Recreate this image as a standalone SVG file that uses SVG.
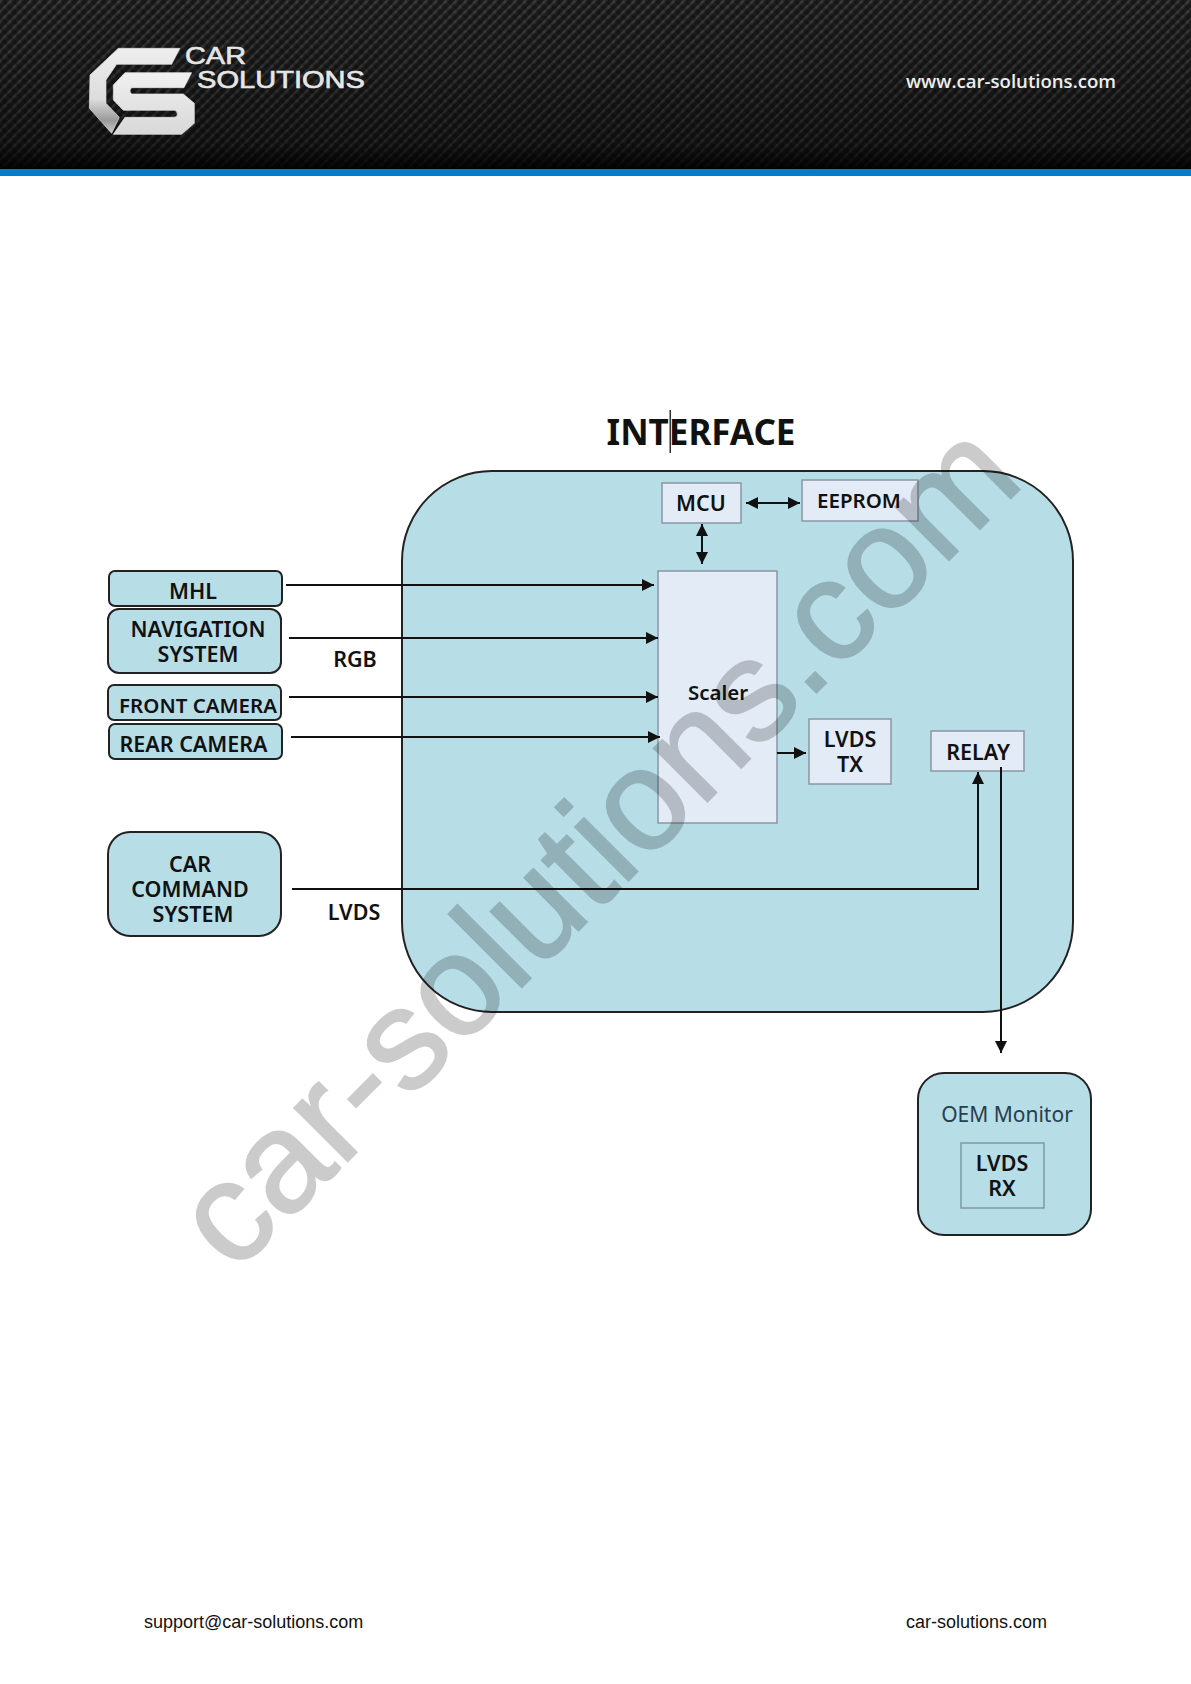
<svg xmlns="http://www.w3.org/2000/svg" width="1191" height="1684" viewBox="0 0 1191 1684">
<style>
text{font-family:"Noto Sans","Open Sans","Liberation Sans",sans-serif;font-weight:600;fill:#111;text-anchor:middle}
.l{font-size:21.5px}
.lf{font-size:20.5px}
.b{fill:#b7dde7;stroke:#222;stroke-width:2}
.i{fill:#e2ebf6;stroke:#8a97a3;stroke-width:1.5}
.c{fill:none;stroke:#111;stroke-width:2}
.foot{font-family:"Liberation Sans",Arial,sans-serif;font-weight:400;font-size:18px;fill:#111;text-anchor:start}
.logo{font-family:"Liberation Sans",sans-serif;font-size:23px;font-weight:400;fill:#e6e6e6;stroke:#e6e6e6;stroke-width:.6;text-anchor:start}
</style>
<defs>
<linearGradient id="hdr" x1="0" y1="0" x2="0" y2="1"><stop offset="0" stop-color="#000" stop-opacity="0"/><stop offset=".4" stop-color="#000" stop-opacity=".15"/><stop offset=".85" stop-color="#000" stop-opacity=".4"/><stop offset="1" stop-color="#000" stop-opacity=".9"/></linearGradient>
<linearGradient id="lg" x1="0" y1="0" x2="0" y2="1"><stop offset="0" stop-color="#f0f0f0"/><stop offset="1" stop-color="#d8d8d8"/></linearGradient>
<linearGradient id="lc" x1="0" y1="0" x2="0" y2="1"><stop offset="0" stop-color="#eee"/><stop offset=".6" stop-color="#dcdcdc"/><stop offset=".85" stop-color="#999"/><stop offset="1" stop-color="#ccc"/></linearGradient>
<pattern id="carbon" width="7" height="7" patternUnits="userSpaceOnUse" patternTransform="rotate(-45)"><rect width="7" height="7" fill="#1c1c1c"/><rect width="7" height="2.5" fill="#3c3c3c"/><rect x="0" width="3.5" height="7" fill="#000" opacity=".22"/></pattern>
<marker id="ah" markerWidth="13" markerHeight="12" refX="12" refY="6" orient="auto-start-reverse" markerUnits="userSpaceOnUse"><path d="M0 0L12 6L0 12z" fill="#111"/></marker>
</defs>
<g id="header">
<rect width="1191" height="169" fill="url(#carbon)"/>
<rect width="1191" height="169" fill="url(#hdr)"/>
<rect y="169" width="1191" height="7" fill="#0a7cc4"/>
<g id="logo" transform="scale(.3333)">
<path d="M540 145H355L270 225L268 325L335 400L358 352L318 310V240L350 193H515Z" fill="url(#lc)" stroke="#e0e0e0" stroke-width="2" stroke-linejoin="round"/>
<path d="M575 218H375L340 255V300L370 331H522Q532 331 532 343Q532 352 522 352H375L340 403H545L583 370V310L550 282H395Q385 272 395 263H552Z" fill="url(#lg)" stroke="#e6e6e6" stroke-width="2" stroke-linejoin="round"/>
</g>
<text class="logo" x="185" y="64" textLength="61" lengthAdjust="spacingAndGlyphs">CAR</text>
<text class="logo" x="197" y="88" textLength="168" lengthAdjust="spacingAndGlyphs">SOLUTIONS</text>
<text x="1011" y="88" style="font-family:'Open Sans',sans-serif;font-size:18.6px;font-weight:600;fill:#eee">www.car-solutions.com</text>
</g>
<text x="701" y="445" style="font-size:35px;font-weight:700">INTERFACE</text>
<rect x="669.5" y="410" width="1.5" height="43" fill="#333"/>
<g id="interface"><rect class="b" x="402" y="471" width="671" height="541" rx="90"/></g>
<g id="mcu"><rect class="i" x="662" y="483" width="79" height="40"/><text class="l" x="701" y="511">MCU</text></g>
<g id="eeprom"><rect class="i" x="802" y="480" width="116" height="41"/><text class="lf" x="859" y="508">EEPROM</text></g>
<g id="scaler"><rect class="i" x="658" y="571" width="119" height="252"/><text class="lf" x="718" y="700">Scaler</text></g>
<g id="lvds-tx"><rect class="i" x="809" y="719" width="82" height="65"/><text class="l" y="747"><tspan x="850">LVDS</tspan><tspan x="850" dy="25">TX</tspan></text></g>
<g id="relay"><rect class="i" x="931" y="731" width="93" height="40"/><text class="l" x="978" y="760">RELAY</text></g>
<g id="mhl"><rect class="b" x="109" y="571" width="173" height="35" rx="6"/><text class="l" x="193" y="599">MHL</text></g>
<g id="nav"><rect class="b" x="108" y="609" width="173" height="64" rx="11"/><text class="l" y="637"><tspan x="198">NAVIGATION</tspan><tspan x="198" dy="25">SYSTEM</tspan></text></g>
<g id="front"><rect class="b" x="108" y="685" width="173" height="35" rx="6"/><text class="lf" x="198" y="713">FRONT CAMERA</text></g>
<g id="rear"><rect class="b" x="109" y="724" width="173" height="35" rx="6"/><text class="l" x="193.500" y="752">REAR CAMERA</text></g>
<g id="ccs"><rect class="b" x="108" y="832" width="173" height="104" rx="22"/><text class="l" y="872"><tspan x="190">CAR</tspan><tspan x="190" dy="25">COMMAND</tspan><tspan x="193" dy="25">SYSTEM</tspan></text></g>
<g id="monitor"><rect class="b" x="918" y="1073" width="173" height="162" rx="26"/><text x="1007" y="1122" style="font-size:21px;font-weight:400;fill:#27404d">OEM Monitor</text><rect x="961" y="1143" width="83" height="65" fill="#b7dde7" stroke="#7f9aa5" stroke-width="1.5"/><text class="l" y="1171"><tspan x="1002">LVDS</tspan><tspan x="1002" dy="25">RX</tspan></text></g>
<text class="l" x="355" y="667">RGB</text>
<text class="l" x="354" y="920">LVDS</text>
<g id="connectors">
<path class="c" d="M286 585H654" marker-end="url(#ah)"/>
<path class="c" d="M289 638H658" marker-end="url(#ah)"/>
<path class="c" d="M289 697H658" marker-end="url(#ah)"/>
<path class="c" d="M291 737H660" marker-end="url(#ah)"/>
<path class="c" d="M292 889H978V772" marker-end="url(#ah)"/>
<path class="c" d="M1001 767V1053" marker-end="url(#ah)"/>
<path class="c" d="M746 503H800" marker-start="url(#ah)" marker-end="url(#ah)"/>
<path class="c" d="M702 524V564" marker-start="url(#ah)" marker-end="url(#ah)"/>
<path class="c" d="M777 753H806" marker-end="url(#ah)"/>
</g>
<text transform="translate(234 1275) rotate(-45)" style="font-family:'Liberation Sans',sans-serif;font-size:143px;font-weight:400;fill:#000;stroke:#000;stroke-width:2;opacity:.2;text-anchor:start">car-solutions.com</text>
<text class="foot" x="144" y="1628">support@car-solutions.com</text>
<text class="foot" x="906" y="1628">car-solutions.com</text>
</svg>
